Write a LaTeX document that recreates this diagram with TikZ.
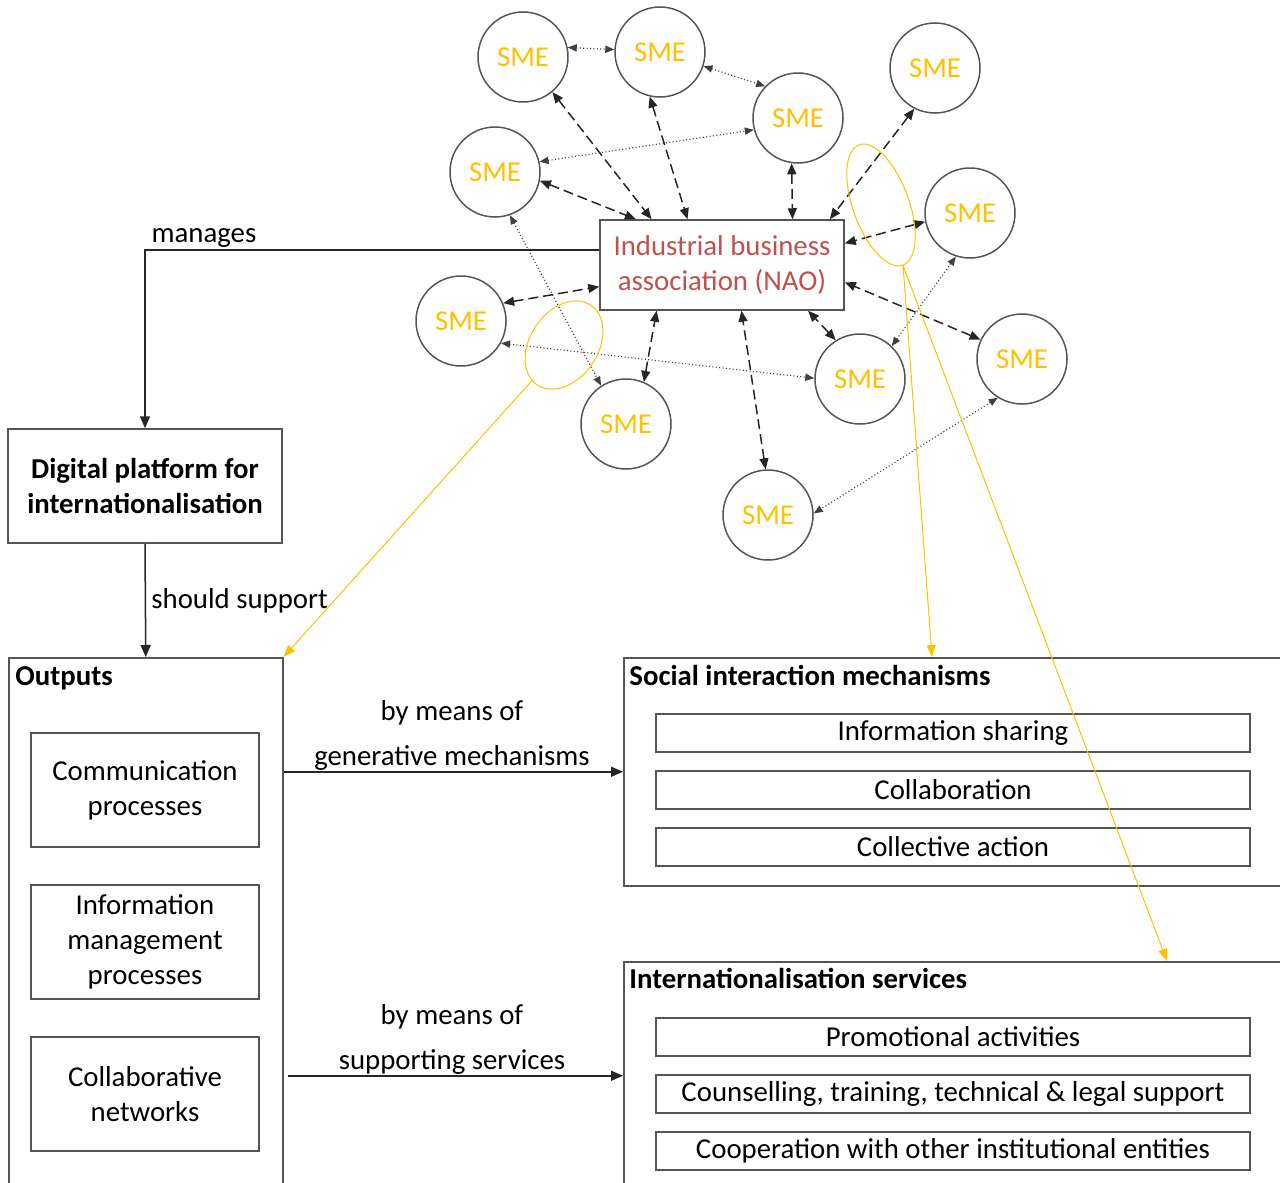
\documentclass[tikz,border=0pt]{standalone}
\usepackage{fontspec}
\setmainfont{Carlito}
\usetikzlibrary{arrows.meta,shapes.geometric}
\definecolor{smegold}{RGB}{255,192,0}
\definecolor{naored}{RGB}{192,80,77}
\definecolor{edge}{RGB}{85,85,85}

\begin{document}
\begin{tikzpicture}[x=0.5pt,y=-0.5pt,
  txt/.style={font=\fontsize{14.4}{17.5}\selectfont},
  head/.style={font=\fontsize{14.4}{17.5}\selectfont\bfseries},
  sme/.style={circle, draw=edge, line width=0.75pt, minimum size=45pt, inner sep=0pt,
    text=smegold, font=\fontsize{14.4}{17.5}\selectfont},
  box/.style={draw=edge, line width=0.75pt, inner sep=0pt, align=center, txt},
  panel/.style={draw=edge, line width=0.75pt, inner sep=0pt, anchor=north west},
  link/.style={black!85, line width=0.75pt, -{Triangle[length=6pt,width=5pt]}},
  nlink/.style={black!85, line width=0.75pt, dash pattern=on 5pt off 2.5pt,
    {Triangle[length=5.5pt,width=4.5pt]}-{Triangle[length=5.5pt,width=4.5pt]}},
  plink/.style={black!75, line width=0.6pt, dash pattern=on 0.5pt off 1.2pt,
    {Triangle[length=4.5pt,width=3.6pt]}-{Triangle[length=4.5pt,width=3.6pt]}},
  ring/.style={ellipse, draw=smegold, line width=0.5pt, inner sep=0pt},
  hlink/.style={smegold, line width=0.5pt, -{Triangle[length=6pt,width=4.5pt]}}
]
\useasboundingbox (0,0) rectangle (1280,1183);
\clip (0,0) rectangle (1280,1183);

% association and its member SMEs
\node[box, text=naored, minimum width=122pt, minimum height=45pt] (nao) at (722,265)
  {Industrial business\\association (NAO)};
\node[sme] (sme1)  at (523,57)  {SME};
\node[sme] (sme2)  at (660,52)  {SME};
\node[sme] (sme3)  at (798,118) {SME};
\node[sme] (sme4)  at (935,68)  {SME};
\node[sme] (sme5)  at (495,172) {SME};
\node[sme] (sme6)  at (970,213) {SME};
\node[sme] (sme7)  at (461,321) {SME};
\node[sme] (sme8)  at (626,424) {SME};
\node[sme] (sme9)  at (860,379) {SME};
\node[sme] (sme10) at (1022,359) {SME};
\node[sme] (sme11) at (768,515) {SME};

% association <-> SME ties
\draw[nlink] (sme1.310)  -- (nao.147);
\draw[nlink] (sme2.257)  -- (nao.127);
\draw[nlink] (sme3.262)  -- (nao.33);
\draw[nlink] (sme4.243)  -- (nao.23.5);
\draw[nlink] (sme5.349)  -- (nao.152);
\draw[nlink] (sme6.191)  -- (nao.10);
\draw[nlink] (sme7.23)   -- (nao.190);
\draw[nlink] (sme8.67)   -- (nao.215);
\draw[nlink] (sme9.122.6) -- (nao.332.7);
\draw[nlink] (sme10.155.7) -- (nao.352);
\draw[nlink] (sme11.93.7) -- (nao.293.5);

% SME <-> SME ties
\draw[plink] (sme1.12)  -- (sme2.177);
\draw[plink] (sme2.-18) -- (sme3.136);
\draw[plink] (sme5.13.4) -- (sme3.195);
\draw[plink] (sme5.-71) -- (sme8.123);
\draw[plink] (sme7.-29) -- (sme9.179);
\draw[plink] (sme6.252) -- (sme9.46);
\draw[plink] (sme10.238) -- (sme11.2.4);

% platform and outputs
\node[box, head, minimum width=137pt, minimum height=57pt] (platform) at (145,486)
  {Digital platform for\\internationalisation};
\node[panel, minimum width=137pt, minimum height=300pt] (outputs) at (8,657) {};
\node[head, anchor=base west, inner sep=0pt] (outlbl) at (15,685) {Outputs};
\node[box, minimum width=114pt, minimum height=57pt] (comm) at (145,790)
  {Communication\\processes};
\node[box, minimum width=114pt, minimum height=57pt] (infm) at (145,942)
  {Information\\management\\processes};
\node[box, minimum width=114pt, minimum height=57pt] (collnet) at (145,1094)
  {Collaborative\\networks};

% social interaction mechanisms
\node[panel, minimum width=340pt, minimum height=114pt] (social) at (623,657) {};
\node[head, anchor=base west, inner sep=0pt] (soclbl) at (629,685) {Social interaction mechanisms};
\node[box, minimum width=297pt, minimum height=19pt] (share) at (953,733) {Information sharing};
\node[box, minimum width=297pt, minimum height=19pt] (collab) at (953,790) {Collaboration};
\node[box, minimum width=297pt, minimum height=19pt] (collact) at (953,847) {Collective action};

% internationalisation services
\node[panel, minimum width=340pt, minimum height=114pt] (intl) at (623,961) {};
\node[head, anchor=base west, inner sep=0pt] (intlbl) at (629,988) {Internationalisation services};
\node[box, minimum width=297pt, minimum height=19pt] (promo) at (953,1037) {Promotional activities};
\node[box, minimum width=297pt, minimum height=19pt] (couns) at (953,1094)
  {Counselling, training, technical \& legal support};
\node[box, minimum width=297pt, minimum height=19pt] (coop) at (953,1151)
  {Cooperation with other institutional entities};

% main relations
\draw[link] ([yshift=7.5pt]nao.west) -| (platform.north);
\node[txt, anchor=base, inner sep=0pt] (mglbl) at (204,242) {manages};
\draw[link] (platform.south) -- (outputs.north);
\node[txt, anchor=base west, inner sep=0pt] (sslbl) at (151,608) {should support};
\draw[link] (outputs.east |- social.west) -- (social.west);
\node[txt, align=center, anchor=base, inner sep=0pt] (genlbl) at (452,765)
  {by means of\\[5pt]generative mechanisms};
\draw[link] ([xshift=2pt]outputs.east |- intl.west) -- (intl.west);
\node[txt, align=center, anchor=base, inner sep=0pt] (suplbl) at (452,1069)
  {by means of\\[5pt]supporting services};

% highlighted groups
\node[ring, minimum width=34pt, minimum height=48pt, rotate=-34] (ring1) at (564,345) {};
\node[ring, minimum width=28pt, minimum height=64pt, rotate=20] (ring2) at (881,205) {};
\draw[hlink] (ring1) -- (outputs.north east);
\draw[hlink] (ring2.south) -- ([xshift=154.5pt]social.north west);
\draw[hlink] (ring2.south) -- ([xshift=272pt]intl.north west);
\end{tikzpicture}
\end{document}
